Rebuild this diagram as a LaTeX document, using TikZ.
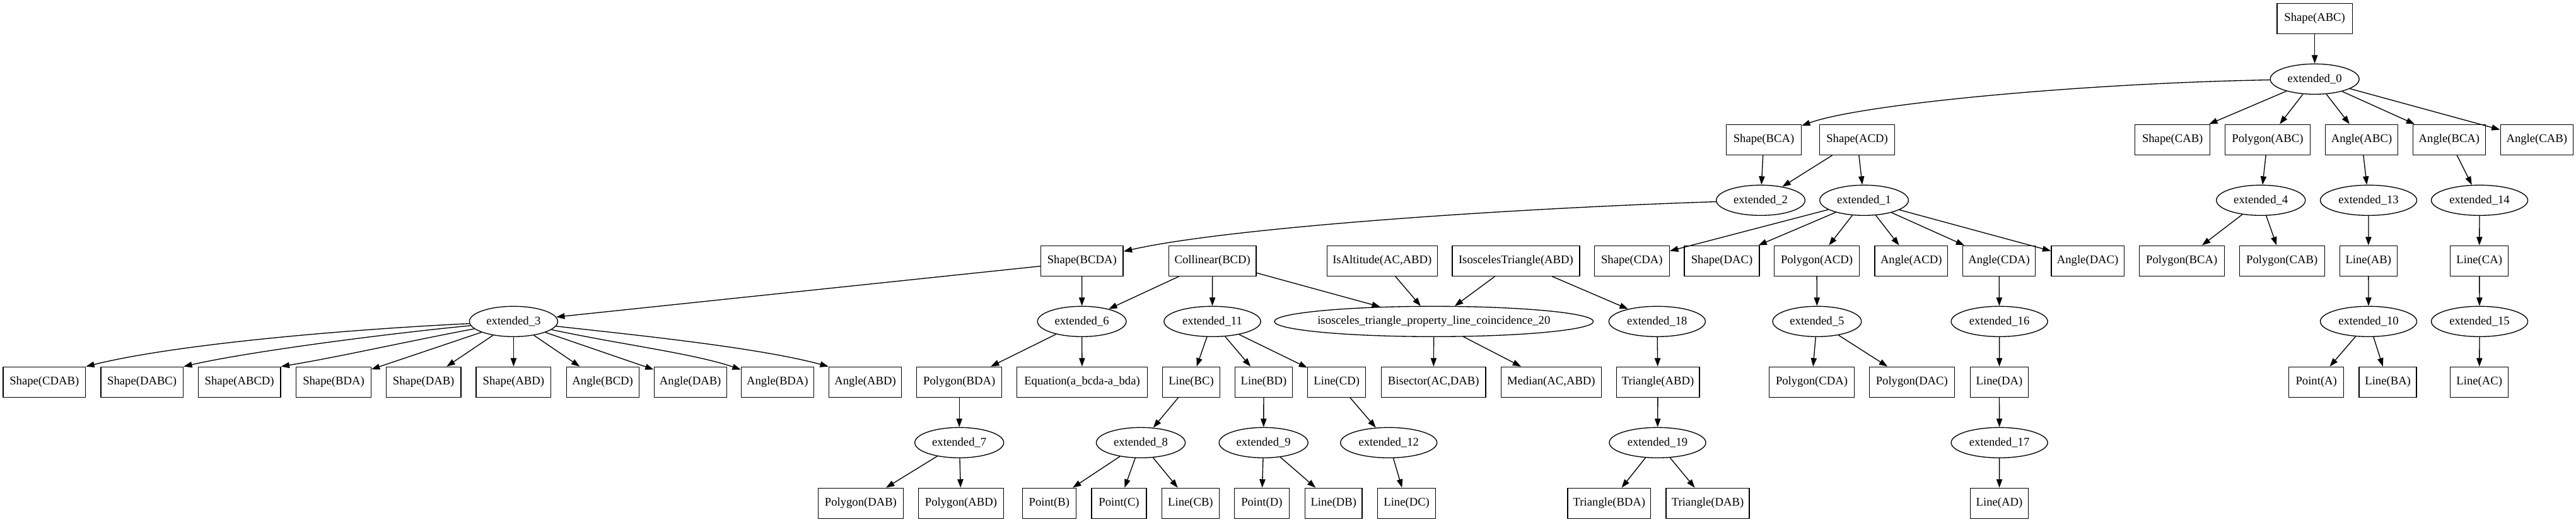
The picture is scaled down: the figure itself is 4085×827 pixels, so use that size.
\documentclass[tikz,border=0pt]{standalone}
\usepackage{fontspec}
\setmainfont{Liberation Serif}
\usetikzlibrary{arrows.meta,shapes.geometric}
\begin{document}
\begin{tikzpicture}[x=0.75pt,y=-0.75pt,
  every node/.style={font=\fontsize{14pt}{16pt}\selectfont},
  bx/.style={draw, line width=1pt, rectangle, minimum height=36pt, inner xsep=0pt, inner ysep=0pt, minimum width=#1},
  el/.style={draw, line width=1pt, ellipse, minimum height=36pt, inner sep=0pt, minimum width=#1},
  edge/.style={line width=1pt, -{Triangle[length=10pt,width=7pt]}}]
\fill[white] (0,0) rectangle (4085,827);
\useasboundingbox (0,0) rectangle (4085,827);
% row 0-1
\node[bx=89.5pt] (sABC) at (3670.6,29.3) {Shape(ABC)};
\node[el=105.75pt] (e0) at (3670.6,125.3) {extended\_0};
% row 2
\node[bx=89.25pt] (sBCA) at (2797,221.3) {Shape(BCA)};
\node[bx=89.25pt] (sACD) at (2945,221.3) {Shape(ACD)};
\node[bx=89.25pt] (sCAB) at (3445.2,221.3) {Shape(CAB)};
\node[bx=101.25pt] (pABC) at (3595.9,221.3) {Polygon(ABC)};
\node[bx=86.25pt] (aABC) at (3745,221.3) {Angle(ABC)};
\node[bx=86.25pt] (aBCA) at (3883.9,221.3) {Angle(BCA)};
\node[bx=86.25pt] (aCAB) at (4022.7,221.3) {Angle(CAB)};
% row 3
\node[el=105.5pt] (e2) at (2792,317.3) {extended\_2};
\node[el=105.5pt] (e1) at (2956,317.3) {extended\_1};
\node[el=105.75pt] (e4) at (3585.2,317.3) {extended\_4};
\node[el=114.75pt] (e13) at (3756,317.3) {extended\_13};
\node[el=114.75pt] (e14) at (3932,317.3) {extended\_14};
% row 4
\node[bx=98pt] (sBCDA) at (1715.8,413.3) {Shape(BCDA)};
\node[bx=104.1pt] (col) at (1922.7,413.3) {Collinear(BCD)};
\node[bx=131.25pt] (isAlt) at (2191.8,413.3) {IsAltitude(AC,ABD)};
\node[bx=151.35pt] (isoT) at (2403.9,413.3) {IsoscelesTriangle(ABD)};
\node[bx=89.25pt] (sCDA) at (2587.8,413.3) {Shape(CDA)};
\node[bx=89.25pt] (sDAC) at (2730.5,413.3) {Shape(DAC)};
\node[bx=101.25pt] (pACD) at (2881,413.3) {Polygon(ACD)};
\node[bx=86.5pt] (aACD) at (3030.7,413.3) {Angle(ACD)};
\node[bx=86.5pt] (aCDA) at (3170,413.3) {Angle(CDA)};
\node[bx=86.5pt] (aDAC) at (3310.6,413.3) {Angle(DAC)};
\node[bx=101.25pt] (pBCA) at (3459.7,413.3) {Polygon(BCA)};
\node[bx=101.25pt] (pCAB) at (3618.7,413.3) {Polygon(CAB)};
\node[bx=68pt] (lAB) at (3755.8,413.3) {Line(AB)};
\node[bx=69pt] (lCA) at (3931.7,413.3) {Line(CA)};
% row 5
\node[el=105pt] (e3) at (814.4,509.3) {extended\_3};
\node[el=105.5pt] (e6) at (1715.6,509.3) {extended\_6};
\node[el=115pt] (e11) at (1922.5,509.3) {extended\_11};
\node[el=379.2pt, inner xsep=-4.3pt] (iso) at (2273.8,509.3) {isosceles\_triangle\_property\_line\_coincidence\_20};
\node[el=114.75pt] (e18) at (2627.8,509.3) {extended\_18};
\node[el=105.5pt] (e5) at (2881.4,509.3) {extended\_5};
\node[el=114.75pt] (e16) at (3170.6,509.3) {extended\_16};
\node[el=114.75pt] (e10) at (3756,509.3) {extended\_10};
\node[el=114.75pt] (e15) at (3932,509.3) {extended\_15};
% row 6
\node[bx=98pt] (sCDAB) at (70.3,605.3) {Shape(CDAB)};
\node[bx=98pt] (sDABC) at (225.2,605.3) {Shape(DABC)};
\node[bx=98pt] (sABCD) at (379.7,605.3) {Shape(ABCD)};
\node[bx=89pt] (sBDA) at (529,605.3) {Shape(BDA)};
\node[bx=89pt] (sDAB) at (671.7,605.3) {Shape(DAB)};
\node[bx=89pt] (sABD) at (814.4,605.3) {Shape(ABD)};
\node[bx=86.25pt] (aBCD) at (955.7,605.3) {Angle(BCD)};
\node[bx=86.25pt] (aDAB) at (1094.7,605.3) {Angle(DAB)};
\node[bx=86.25pt] (aBDA) at (1232.9,605.3) {Angle(BDA)};
\node[bx=86.25pt] (aABD) at (1372,605.3) {Angle(ABD)};
\node[bx=101.25pt] (pBDA) at (1521.2,605.3) {Polygon(BDA)};
\node[bx=155pt] (eqn) at (1716,605.3) {Equation(a\_bcda-a\_bda)};
\node[bx=68.25pt] (lBC) at (1889,605.3) {Line(BC)};
\node[bx=68pt] (lBD) at (2004,605.3) {Line(BD)};
\node[bx=69pt] (lCD) at (2119.7,605.3) {Line(CD)};
\node[bx=124.2pt] (bis) at (2273.2,605.3) {Bisector(AC,DAB)};
\node[bx=118.9pt] (med) at (2459.9,605.3) {Median(AC,ABD)};
\node[bx=98.75pt] (tABD) at (2629,605.3) {Triangle(ABD)};
\node[bx=101.25pt] (pCDA) at (2873,605.3) {Polygon(CDA)};
\node[bx=101.25pt] (pDAC) at (3031.8,605.3) {Polygon(DAC)};
\node[bx=69pt] (lDA) at (3170.5,605.3) {Line(DA)};
\node[bx=65.25pt] (ptA) at (3673.2,605.3) {Point(A)};
\node[bx=68.25pt] (lBA) at (3786.6,605.3) {Line(BA)};
\node[bx=69pt] (lAC) at (3931.7,605.3) {Line(AC)};
% row 7
\node[el=105.75pt] (e7) at (1521.2,701.3) {extended\_7};
\node[el=105.75pt] (e8) at (1809,701.3) {extended\_8};
\node[el=105.75pt] (e9) at (2003.7,701.3) {extended\_9};
\node[el=114.75pt] (e12) at (2202.2,701.3) {extended\_12};
\node[el=114.75pt] (e19) at (2628.5,701.3) {extended\_19};
\node[el=114.75pt] (e17) at (3170.6,701.3) {extended\_17};
% row 8
\node[bx=101.25pt] (pDAB) at (1364.9,797.3) {Polygon(DAB)};
\node[bx=101.25pt] (pABD) at (1524,797.3) {Polygon(ABD)};
\node[bx=63.75pt] (ptB) at (1663.8,797.3) {Point(B)};
\node[bx=65.25pt] (ptC) at (1774.5,797.3) {Point(C)};
\node[bx=68pt] (lCB) at (1887.9,797.3) {Line(CB)};
\node[bx=65.25pt] (ptD) at (2000.9,797.3) {Point(D)};
\node[bx=68pt] (lDB) at (2114.8,797.3) {Line(DB)};
\node[bx=69pt] (lDC) at (2230.6,797.3) {Line(DC)};
\node[bx=98.75pt] (tBDA) at (2551.9,797.3) {Triangle(BDA)};
\node[bx=99pt] (tDAB) at (2708,797.3) {Triangle(DAB)};
\node[bx=69pt] (lAD) at (3170.5,797.3) {Line(AD)};
% edges
\draw[edge] (sABC) -- (e0);
\draw[edge] (e0) .. controls (3300,132) and (2950,165) .. (sBCA);
\draw[edge] (e0) -- (sCAB);
\draw[edge] (e0) -- (pABC);
\draw[edge] (e0) -- (aABC);
\draw[edge] (e0) -- (aBCA);
\draw[edge] (e0) -- (aCAB);
\draw[edge] (sBCA) -- (e2);
\draw[edge] (sACD) -- (e2);
\draw[edge] (sACD) -- (e1);
\draw[edge] (e2) .. controls (2400,330) and (1950,360) .. (sBCDA);
\draw[edge] (e1) -- (sCDA);
\draw[edge] (e1) -- (sDAC);
\draw[edge] (e1) -- (pACD);
\draw[edge] (e1) -- (aACD);
\draw[edge] (e1) -- (aCDA);
\draw[edge] (e1) -- (aDAC);
\draw[edge] (pABC) -- (e4);
\draw[edge] (aABC) -- (e13);
\draw[edge] (aBCA) -- (e14);
\draw[edge] (e4) -- (pBCA);
\draw[edge] (e4) -- (pCAB);
\draw[edge] (e13) -- (lAB);
\draw[edge] (e14) -- (lCA);
\draw[edge] (lAB) -- (e10);
\draw[edge] (lCA) -- (e15);
\draw[edge] (e10) -- (ptA);
\draw[edge] (e10) -- (lBA);
\draw[edge] (e15) -- (lAC);
\draw[edge] ([yshift=-6.3pt]sBCDA.west) -- (e3);
\draw[edge] (sBCDA) -- (e6);
\draw[edge] (col) -- (e6);
\draw[edge] (col) -- (e11);
\draw[edge] (col) -- (iso);
\draw[edge] (isAlt) -- (iso);
\draw[edge] (isoT) -- (iso);
\draw[edge] (isoT) -- (e18);
\draw[edge] (pACD) -- (e5);
\draw[edge] (aCDA) -- (e16);
\draw[edge] (e3) .. controls (550,522) and (280,545) .. (sCDAB.north east);
\draw[edge] (e3) .. controls (620,528) and (400,556) .. (sDABC.north east);
\draw[edge] (e3) .. controls (650,540) and (540,565) .. (sABCD.north east);
\draw[edge] (e3) -- (sBDA);
\draw[edge] (e3) -- (sDAB);
\draw[edge] (e3) -- (sABD);
\draw[edge] (e3) -- (aBCD);
\draw[edge] (e3) -- (aDAB);
\draw[edge] (e3) .. controls (980,545) and (1100,560) .. (aBDA);
\draw[edge] (e3) .. controls (1000,530) and (1200,550) .. (aABD.north west);
\draw[edge] (e6) -- (pBDA);
\draw[edge] (e6) -- (eqn);
\draw[edge] (e11) -- (lBC);
\draw[edge] (e11) -- (lBD);
\draw[edge] (e11) -- (lCD);
\draw[edge] (iso) -- (bis);
\draw[edge] (iso) -- (med);
\draw[edge] (e18) -- (tABD);
\draw[edge] (e5) -- (pCDA);
\draw[edge] (e5) -- (pDAC);
\draw[edge] (e16) -- (lDA);
\draw[edge] (pBDA) -- (e7);
\draw[edge] (lBC) -- (e8);
\draw[edge] (lBD) -- (e9);
\draw[edge] (lCD) -- (e12);
\draw[edge] (tABD) -- (e19);
\draw[edge] (lDA) -- (e17);
\draw[edge] (e7) -- (pDAB);
\draw[edge] (e7) -- (pABD);
\draw[edge] (e8) -- (ptB);
\draw[edge] (e8) -- (ptC);
\draw[edge] (e8) -- (lCB);
\draw[edge] (e9) -- (ptD);
\draw[edge] (e9) -- (lDB);
\draw[edge] (e12) -- (lDC);
\draw[edge] (e19) -- (tBDA);
\draw[edge] (e19) -- (tDAB);
\draw[edge] (e17) -- (lAD);
\end{tikzpicture}
\end{document}
